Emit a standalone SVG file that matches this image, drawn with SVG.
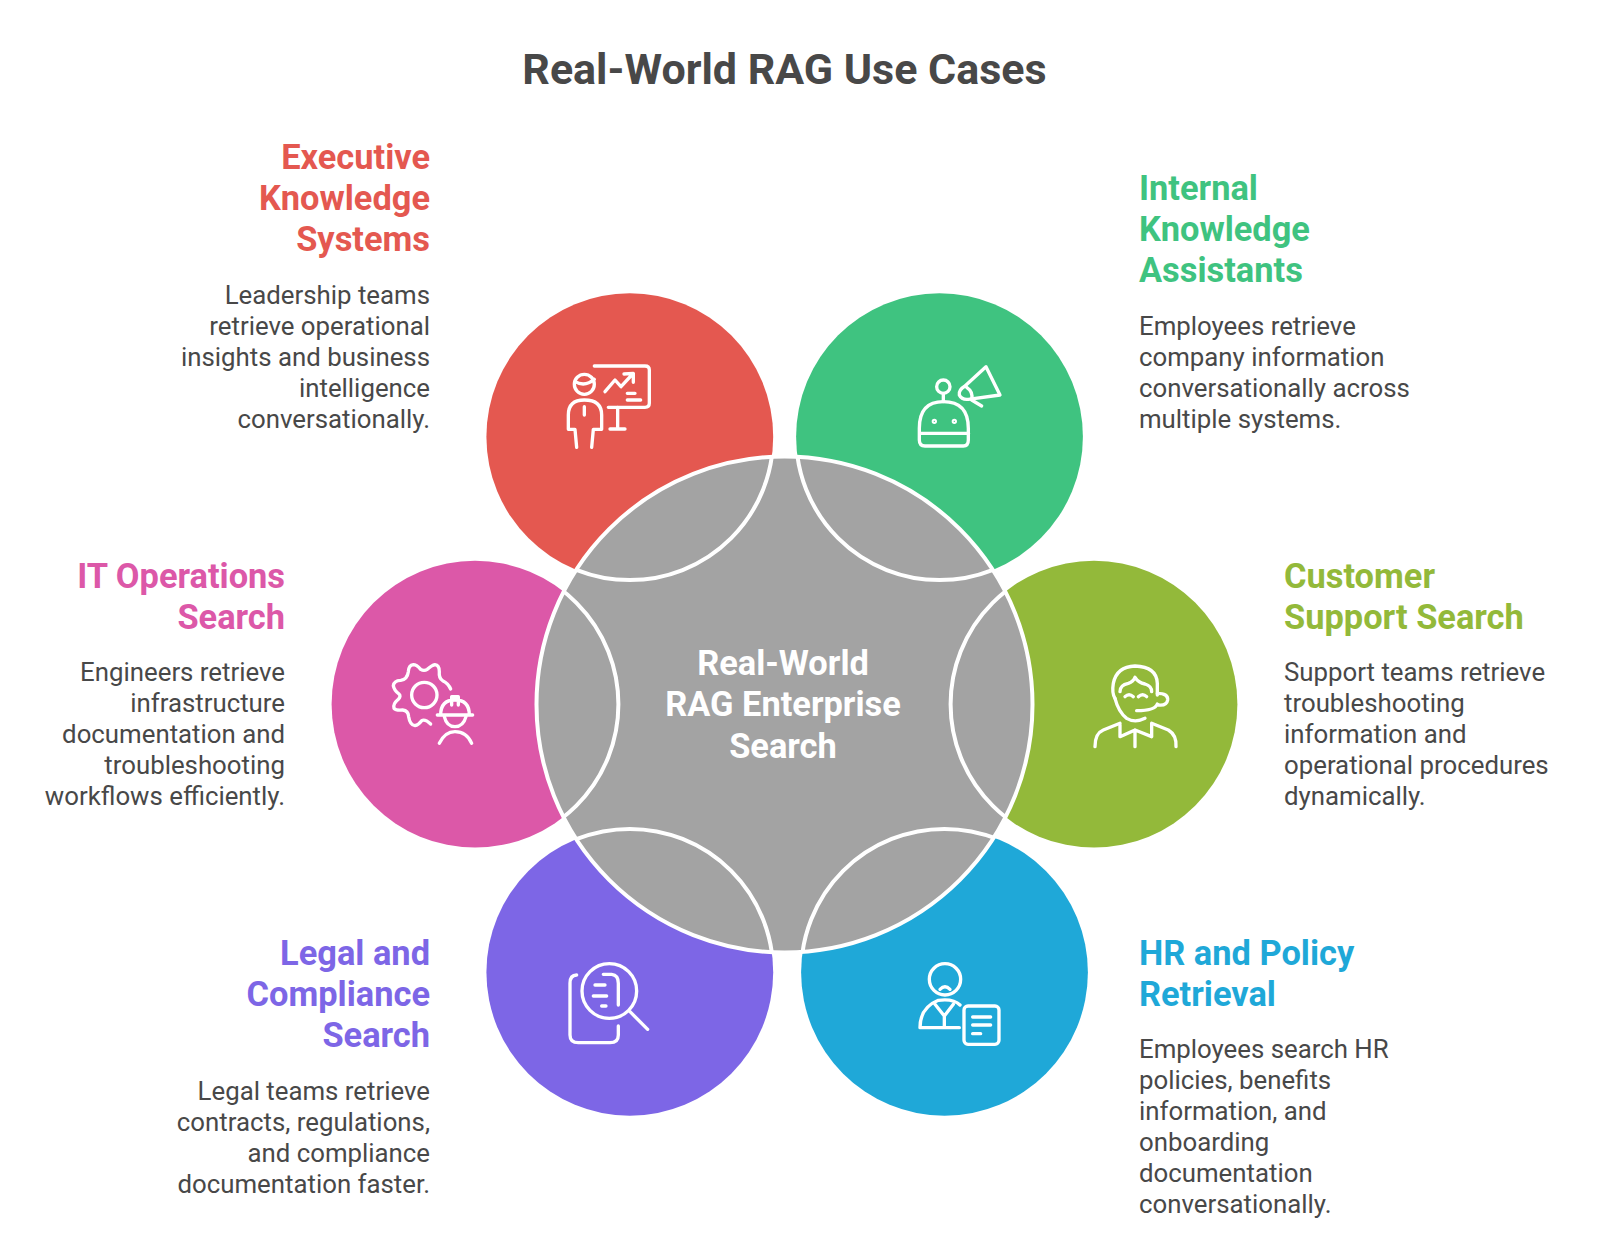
<svg xmlns="http://www.w3.org/2000/svg" width="1600" height="1243" viewBox="0 0 1600 1243">
<style>
text{font-family:Roboto,"Liberation Sans",sans-serif}
.title{font-size:43px;font-weight:700;fill:#484848;text-anchor:middle}
.h{font-size:34.4px;font-weight:700}
.b{font-size:25.8px;font-weight:400;fill:#484848}
.r{text-anchor:end}
.c{font-size:34.4px;font-weight:700;fill:#fff;text-anchor:middle}
.ico{fill:none;stroke:#fff;stroke-width:10;stroke-linecap:round;stroke-linejoin:round}
.ol{fill:none;stroke:#fff;stroke-width:4}
</style>
<defs><clipPath id="inner"><circle cx="784.500" cy="704.500" r="248"/></clipPath></defs>
<rect width="1600" height="1243" fill="#fff"/>
<text class="title" x="784.500" y="84">Real-World RAG Use Cases</text>
<g id="executive">
<circle cx="629.800" cy="436.700" r="143.4" fill="#E45850"/>
<g class="ico" transform="translate(550 350) scale(.3333)">
<path d="M133,48H285Q298,48 298,60V160Q298,172 285,172H175"/><circle cx="103" cy="103" r="30"/><path d="M75,95Q105,112 133,88"/><path d="M80,292L75,238H55V195Q55,150 103,150Q155,150 155,195V238H130L125,292"/><path d="M103,170V195"/><path d="M165,125L195,90L213,110L248,72M222,72L250,70V97"/><path d="M232,130H255M232,150H272"/><path d="M203,172V235M180,237H225"/>
</g>
<text class="h r" fill="#E45850" x="430" y="168.500">Executive</text><text class="h r" fill="#E45850" x="430" y="209.800">Knowledge</text><text class="h r" fill="#E45850" x="430" y="251">Systems</text>
<text class="b r" x="430" y="304">Leadership teams</text><text class="b r" x="430" y="335">retrieve operational</text><text class="b r" x="430" y="366">insights and business</text><text class="b r" x="430" y="397">intelligence</text><text class="b r" x="430" y="428">conversationally.</text>
</g>
<g id="internal">
<circle cx="939.500" cy="436.700" r="143.4" fill="#3FC380"/>
<g class="ico" transform="translate(900 350) scale(.3333)">
<path d="M58,235Q58,155 130,155Q205,155 205,235V270Q205,288 190,288H75Q58,288 58,270Z"/><path d="M60,250H205"/><circle cx="130" cy="110" r="20"/><path d="M130,130V155"/><path d="M258,50L300,135L205,148Q185,150 178,135Q175,120 195,108Z"/><path d="M200,112Q220,125 215,148M215,150L245,168"/>
<circle cx="103" cy="214" r="3"/><circle cx="163" cy="214" r="3"/>
</g>
<text class="h" fill="#3FC380" x="1139" y="199.500">Internal</text><text class="h" fill="#3FC380" x="1139" y="240.800">Knowledge</text><text class="h" fill="#3FC380" x="1139" y="282">Assistants</text>
<text class="b" x="1139" y="335">Employees retrieve</text><text class="b" x="1139" y="366">company information</text><text class="b" x="1139" y="397">conversationally across</text><text class="b" x="1139" y="428">multiple systems.</text>
</g>
<g id="it-ops">
<circle cx="475" cy="704.200" r="143.4" fill="#DC58A8"/>
<g class="ico" transform="translate(320 620) scale(.3333)">
<circle cx="313" cy="225" r="38"/><path d="M392,207Q385,190 368,182Q356,175 358,155Q358,135 345,134Q335,136 322,148Q312,154 302,148Q290,134 280,134Q266,136 265,155Q262,178 242,181Q222,182 220,197Q222,210 237,222Q244,228 235,238Q218,252 222,265Q228,272 248,270Q265,272 266,290Q270,315 285,317Q295,315 305,302Q315,296 332,312"/><path d="M362,285Q362,240 405,240Q448,240 448,285M352,285H458M395,255V230H415V255"/><path d="M373,290Q380,320 405,320Q430,320 438,290"/><path d="M358,370Q375,335 405,335Q440,335 455,370"/>
</g>
<text class="h r" fill="#DC58A8" x="285" y="587.500">IT Operations</text><text class="h r" fill="#DC58A8" x="285" y="628.500">Search</text>
<text class="b r" x="285" y="681">Engineers retrieve</text><text class="b r" x="285" y="712">infrastructure</text><text class="b r" x="285" y="743">documentation and</text><text class="b r" x="285" y="774">troubleshooting</text><text class="b r" x="285" y="805">workflows efficiently.</text>
</g>
<g id="customer">
<circle cx="1094" cy="704.200" r="143.4" fill="#93B93A"/>
<g class="ico" transform="translate(1070 640) scale(.3333)">
<path d="M135,175Q125,160 130,130Q140,80 195,78Q260,80 262,130V165"/><path d="M135,175Q145,215 170,235Q195,250 225,235"/><path d="M150,155Q150,135 175,130Q190,125 195,112Q205,128 225,132Q245,138 245,155"/><path d="M165,170Q177,158 190,170M205,170Q218,158 230,170"/><path d="M262,160Q295,160 293,180Q290,198 265,195"/><path d="M262,192Q255,212 200,212"/><path d="M75,320Q75,280 100,270L150,250M245,250L295,270Q320,285 318,320"/><path d="M150,255V290L195,270L245,290V252M195,270V320"/>
</g>
<text class="h" fill="#93B93A" x="1284" y="587.500">Customer</text><text class="h" fill="#93B93A" x="1284" y="628.500">Support Search</text>
<text class="b" x="1284" y="681">Support teams retrieve</text><text class="b" x="1284" y="712">troubleshooting</text><text class="b" x="1284" y="743">information and</text><text class="b" x="1284" y="774">operational procedures</text><text class="b" x="1284" y="805">dynamically.</text>
</g>
<g id="legal">
<circle cx="629.800" cy="972.300" r="143.4" fill="#7D66E6"/>
<g class="ico" transform="translate(540 940) scale(.3333)">
<path d="M110,105Q90,105 90,130V285Q90,308 115,308H210Q235,308 235,285V258"/><circle cx="208" cy="153" r="82"/><path d="M270,215L323,268"/><path d="M190,103H215Q235,105 235,130V195"/><path d="M165,135H195M160,168H200M185,198H198"/>
</g>
<text class="h r" fill="#7D66E6" x="430" y="964.500">Legal and</text><text class="h r" fill="#7D66E6" x="430" y="1005.800">Compliance</text><text class="h r" fill="#7D66E6" x="430" y="1047">Search</text>
<text class="b r" x="430" y="1100">Legal teams retrieve</text><text class="b r" x="430" y="1131">contracts, regulations,</text><text class="b r" x="430" y="1162">and compliance</text><text class="b r" x="430" y="1193">documentation faster.</text>
</g>
<g id="hr">
<circle cx="944.500" cy="972.300" r="143.4" fill="#1FA8D8"/>
<g class="ico" transform="translate(900 941) scale(.3333)">
<circle cx="135" cy="115" r="47"/><path d="M120,145Q135,130 150,145"/><path d="M178,260H60Q60,200 115,178Q160,172 180,192"/><path d="M105,190L133,225L160,190M133,222V258"/><rect x="192" y="195" width="105" height="115" rx="12"/><path d="M218,228H272M218,252H272M218,278H242"/>
</g>
<text class="h" fill="#1FA8D8" x="1139" y="964.500">HR and Policy</text><text class="h" fill="#1FA8D8" x="1139" y="1005.800">Retrieval</text>
<text class="b" x="1139" y="1058">Employees search HR</text><text class="b" x="1139" y="1089">policies, benefits</text><text class="b" x="1139" y="1120">information, and</text><text class="b" x="1139" y="1151">onboarding</text><text class="b" x="1139" y="1182">documentation</text><text class="b" x="1139" y="1213">conversationally.</text>
</g>
<g id="center">
<circle cx="784.500" cy="704.500" r="248" fill="#A3A3A3" stroke="#fff" stroke-width="4"/>
<text class="c" x="783" y="675">Real-World</text><text class="c" x="783" y="716.300">RAG Enterprise</text><text class="c" x="783" y="758">Search</text>
</g>
<g id="connectors" clip-path="url(#inner)">
<circle class="ol" cx="629.800" cy="436.700" r="143.4"/><circle class="ol" cx="939.500" cy="436.700" r="143.4"/><circle class="ol" cx="475" cy="704.200" r="143.4"/><circle class="ol" cx="1094" cy="704.200" r="143.4"/><circle class="ol" cx="629.800" cy="972.300" r="143.4"/><circle class="ol" cx="944.500" cy="972.300" r="143.4"/>
</g>
</svg>
